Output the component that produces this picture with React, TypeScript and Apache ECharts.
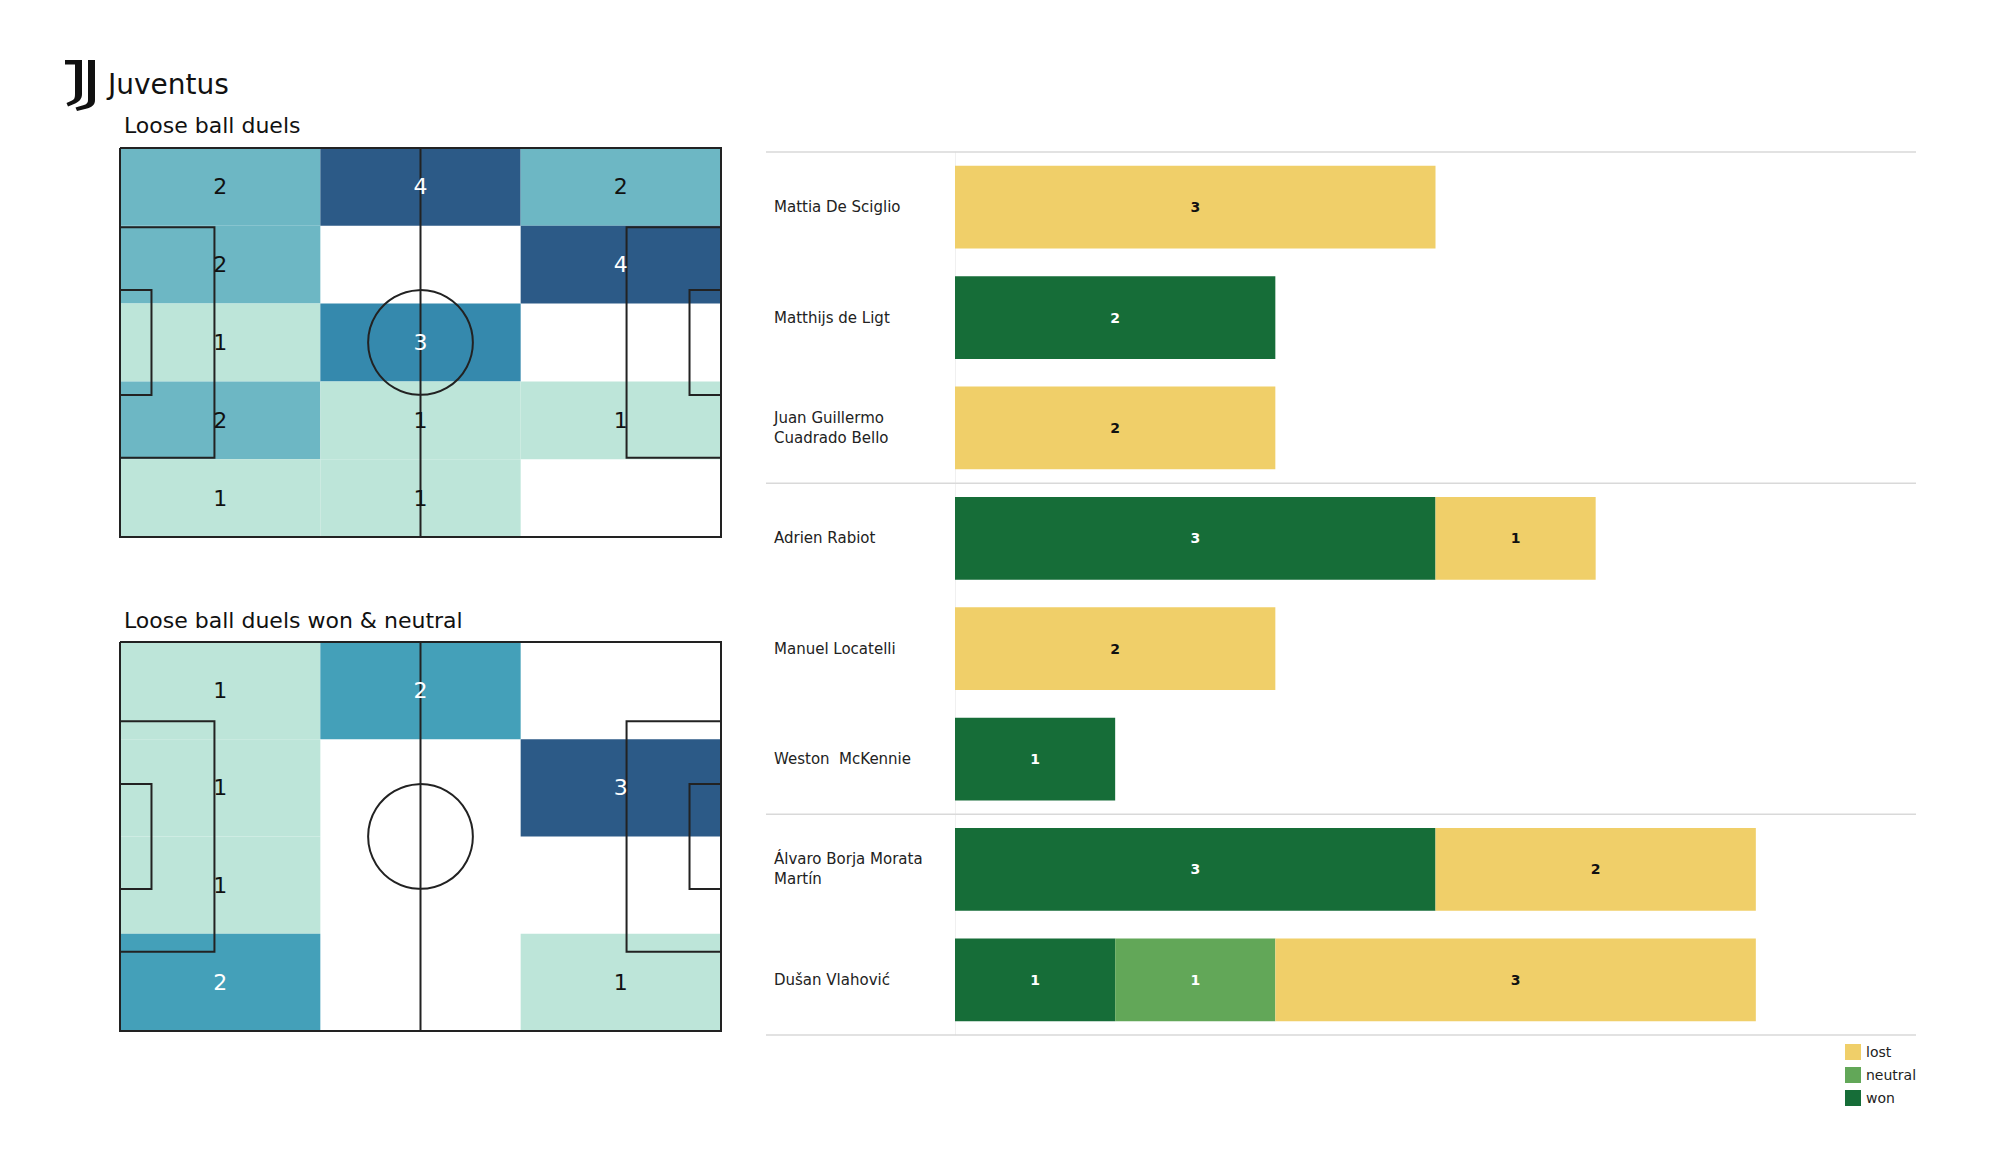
import React, { useEffect, useRef } from 'react';
import * as echarts from 'echarts';

// ---------- data ----------
const TEAM = 'Juventus';
const TITLE_ALL = 'Loose ball duels';
const TITLE_WON = 'Loose ball duels won & neutral';

// zone counts, rows top -> bottom, columns left -> right
const ALL_DUELS_GRID = [
  [2, 4, 2],
  [2, 0, 4],
  [1, 3, 0],
  [2, 1, 1],
  [1, 1, 0],
];
const WON_NEUTRAL_GRID = [
  [1, 2, 0],
  [1, 0, 3],
  [1, 0, 0],
  [2, 0, 1],
];

const PLAYERS = [
  'Mattia De Sciglio',
  'Matthijs de Ligt',
  'Juan Guillermo\nCuadrado Bello',
  'Adrien Rabiot',
  'Manuel Locatelli',
  'Weston  McKennie',
  'Álvaro Borja Morata\nMartín',
  'Dušan Vlahović',
];
const WON = [0, 2, 0, 3, 0, 1, 3, 1];
const NEUTRAL = [0, 0, 0, 0, 0, 0, 0, 1];
const LOST = [3, 0, 2, 1, 2, 0, 2, 3];
const GROUP_SIZES = [3, 3, 2];
const LEGEND_ORDER = ['lost', 'neutral', 'won'];
const BAR_MAX = 6;

// ---------- styling ----------
const FONT = 'DejaVu Sans';
const LINE_COLOR = '#222222';
const TOP_PALETTE = ['#ffffff', '#bde5d9', '#6db7c4', '#3589ad', '#2c5a87'];
const BOTTOM_PALETTE = ['#ffffff', '#bde5d9', '#44a0b9', '#2c5a87'];
const COLORS = { won: '#166d38', neutral: '#62a758', lost: '#f0cf69' };

const PITCH = {
  length: 105,
  width: 68,
  boxDepth: 16.5,
  boxWidth: 40.32,
  sixDepth: 5.5,
  sixWidth: 18.32,
  circleR: 9.15,
};

const LOGO_D =
  'M0 0 H17 V34 C17 39 14 42 9 44 L3 46.5 L1.5 43 L7 40.5 C9.5 39.5 10 37.5 10 34 V4.5 H0 Z ' +
  'M23 0 H30 V40 C30 45 27 47 22 48.5 L12 51 L10.5 47.5 L19 45 C22 44 23 42.5 23 40 Z';

echarts.graphic.registerShape('juveLogo', echarts.graphic.extendPath(LOGO_D, {}));

function gridItems(grid: number[][]) {
  const out: number[][] = [];
  grid.forEach((row, r) =>
    row.forEach((v, c) => {
      if (v > 0) out.push([c, r, v]);
    })
  );
  return out;
}

function maxOf(grid: number[][]) {
  return Math.max(...grid.map((r) => Math.max(...r)));
}

function cellRenderer(nCols: number, nRows: number, palette: string[]) {
  return (params: any, api: any) => {
    const col = api.value(0);
    const row = api.value(1);
    const v = api.value(2);
    const w = PITCH.length / nCols;
    const h = PITCH.width / nRows;
    const p0 = api.coord([col * w, row * h]);
    const p1 = api.coord([(col + 1) * w, (row + 1) * h]);
    return {
      type: 'rect',
      shape: {
        x: Math.min(p0[0], p1[0]),
        y: Math.min(p0[1], p1[1]),
        width: Math.abs(p1[0] - p0[0]),
        height: Math.abs(p1[1] - p0[1]),
      },
      style: { fill: palette[v] },
    };
  };
}

function labelRenderer(nCols: number, nRows: number, max: number) {
  return (params: any, api: any) => {
    const col = api.value(0);
    const row = api.value(1);
    const v = api.value(2);
    const w = PITCH.length / nCols;
    const h = PITCH.width / nRows;
    const p = api.coord([(col + 0.5) * w, (row + 0.5) * h]);
    return {
      type: 'text',
      style: {
        text: String(v),
        x: p[0],
        y: p[1],
        align: 'center',
        verticalAlign: 'middle',
        fill: v / max > 0.6 ? '#ffffff' : '#111111',
        font: `22px "${FONT}"`,
      },
    };
  };
}

function pitchRenderer(params: any, api: any) {
  const L = PITCH.length;
  const W = PITCH.width;
  const c = (x: number, y: number) => api.coord([x, y]);
  const st = { stroke: LINE_COLOR, lineWidth: 2, fill: 'none' };
  const poly = (pts: number[][]) => ({
    type: 'polyline',
    shape: { points: pts.map((p) => c(p[0], p[1])) },
    style: st,
  });
  const bT = (W - PITCH.boxWidth) / 2;
  const bB = (W + PITCH.boxWidth) / 2;
  const sT = (W - PITCH.sixWidth) / 2;
  const sB = (W + PITCH.sixWidth) / 2;
  const bd = PITCH.boxDepth;
  const sd = PITCH.sixDepth;
  const center = c(L / 2, W / 2);
  const r = Math.abs(api.size([PITCH.circleR, 0])[0]);
  return {
    type: 'group',
    children: [
      poly([[0, 0], [L, 0], [L, W], [0, W], [0, 0]]),
      poly([[L / 2, 0], [L / 2, W]]),
      poly([[0, bT], [bd, bT], [bd, bB], [0, bB]]),
      poly([[L, bT], [L - bd, bT], [L - bd, bB], [L, bB]]),
      poly([[0, sT], [sd, sT], [sd, sB], [0, sB]]),
      poly([[L, sT], [L - sd, sT], [L - sd, sB], [L, sB]]),
      { type: 'circle', shape: { cx: center[0], cy: center[1], r }, style: st },
    ],
  };
}

function separatorRenderer(params: any, api: any) {
  const y = api.value(1);
  const p0 = api.coord([0, y]);
  const p1 = api.coord([1, y]);
  return {
    type: 'line',
    shape: { x1: p0[0], y1: p0[1], x2: p1[0], y2: p1[1] },
    style: { stroke: '#d9d9d9', lineWidth: 1.5 },
  };
}

export default function App() {
  const ref = useRef<HTMLDivElement>(null);

  useEffect(() => {
    if (!ref.current) return;
    const chart = echarts.init(ref.current, null, { renderer: 'svg' });

    const topRows = ALL_DUELS_GRID.length;
    const topCols = ALL_DUELS_GRID[0].length;
    const botRows = WON_NEUTRAL_GRID.length;
    const botCols = WON_NEUTRAL_GRID[0].length;
    const topMax = maxOf(ALL_DUELS_GRID);
    const botMax = maxOf(WON_NEUTRAL_GRID);

    const separators: number[][] = [[0, 0]];
    let acc = 0;
    GROUP_SIZES.forEach((g) => {
      acc += g;
      separators.push([0, acc]);
    });

    const pitchX = (gi: number) => ({
      type: 'value',
      gridIndex: gi,
      min: 0,
      max: PITCH.length,
      show: false,
    });
    const pitchY = (gi: number) => ({
      type: 'value',
      gridIndex: gi,
      min: 0,
      max: PITCH.width,
      inverse: true,
      show: false,
    });

    const barLabel = (color: string) => ({
      show: true,
      position: 'inside',
      color,
      fontWeight: 'bold',
      fontSize: 14,
      fontFamily: FONT,
      formatter: (p: any) => (p.value ? String(p.value) : ''),
    });

    const option: any = {
      animation: false,
      backgroundColor: '#ffffff',
      textStyle: { fontFamily: FONT },
      graphic: [
        { type: 'juveLogo', x: 65, y: 60, shape: {}, style: { fill: '#111111' } },
        {
          type: 'text',
          x: 108,
          y: 84,
          style: { text: TEAM, font: `28px "${FONT}"`, fill: '#111111', verticalAlign: 'middle' },
        },
        {
          type: 'text',
          x: 124,
          y: 125,
          style: { text: TITLE_ALL, font: `22px "${FONT}"`, fill: '#111111', verticalAlign: 'middle' },
        },
        {
          type: 'text',
          x: 124,
          y: 620,
          style: { text: TITLE_WON, font: `22px "${FONT}"`, fill: '#111111', verticalAlign: 'middle' },
        },
      ],
      grid: [
        { left: 120, top: 148, width: 601, height: 389 },
        { left: 120, top: 642, width: 601, height: 389 },
        { left: 955, top: 152, right: 84, height: 883 },
        { left: 766, top: 152, right: 84, height: 883 },
      ],
      xAxis: [
        pitchX(0),
        pitchX(1),
        { type: 'value', gridIndex: 2, min: 0, max: BAR_MAX, show: false },
        { type: 'value', gridIndex: 3, min: 0, max: 1, show: false },
      ],
      yAxis: [
        pitchY(0),
        pitchY(1),
        {
          type: 'category',
          gridIndex: 2,
          data: PLAYERS,
          inverse: true,
          axisTick: { show: false },
          axisLine: { show: true, lineStyle: { color: '#f0f0f0', width: 1 } },
          splitLine: { show: false },
          axisLabel: {
            align: 'left',
            margin: 181,
            fontSize: 15,
            lineHeight: 20,
            color: '#222222',
            fontFamily: FONT,
          },
        },
        {
          type: 'value',
          gridIndex: 3,
          min: 0,
          max: PLAYERS.length,
          inverse: true,
          show: false,
        },
      ],
      legend: {
        orient: 'vertical',
        left: 1840,
        top: 1039,
        itemWidth: 16,
        itemHeight: 16,
        itemGap: 7,
        icon: 'rect',
        data: LEGEND_ORDER,
        textStyle: { fontSize: 14, color: '#222222', fontFamily: FONT },
      },
      series: [
        // top pitch
        {
          type: 'custom',
          xAxisIndex: 0,
          yAxisIndex: 0,
          silent: true,
          z: 1,
          data: gridItems(ALL_DUELS_GRID),
          renderItem: cellRenderer(topCols, topRows, TOP_PALETTE),
        },
        {
          type: 'custom',
          xAxisIndex: 0,
          yAxisIndex: 0,
          silent: true,
          z: 3,
          data: [[0, 0]],
          renderItem: pitchRenderer,
        },
        {
          type: 'custom',
          xAxisIndex: 0,
          yAxisIndex: 0,
          silent: true,
          z: 4,
          data: gridItems(ALL_DUELS_GRID),
          renderItem: labelRenderer(topCols, topRows, topMax),
        },
        // bottom pitch
        {
          type: 'custom',
          xAxisIndex: 1,
          yAxisIndex: 1,
          silent: true,
          z: 1,
          data: gridItems(WON_NEUTRAL_GRID),
          renderItem: cellRenderer(botCols, botRows, BOTTOM_PALETTE),
        },
        {
          type: 'custom',
          xAxisIndex: 1,
          yAxisIndex: 1,
          silent: true,
          z: 3,
          data: [[0, 0]],
          renderItem: pitchRenderer,
        },
        {
          type: 'custom',
          xAxisIndex: 1,
          yAxisIndex: 1,
          silent: true,
          z: 4,
          data: gridItems(WON_NEUTRAL_GRID),
          renderItem: labelRenderer(botCols, botRows, botMax),
        },
        // separators
        {
          type: 'custom',
          xAxisIndex: 3,
          yAxisIndex: 3,
          silent: true,
          z: 1,
          data: separators,
          renderItem: separatorRenderer,
        },
        // bars
        {
          name: 'won',
          type: 'bar',
          stack: 'total',
          xAxisIndex: 2,
          yAxisIndex: 2,
          barWidth: '75%',
          z: 2,
          data: WON,
          itemStyle: { color: COLORS.won },
          label: barLabel('#ffffff'),
        },
        {
          name: 'neutral',
          type: 'bar',
          stack: 'total',
          xAxisIndex: 2,
          yAxisIndex: 2,
          barWidth: '75%',
          z: 2,
          data: NEUTRAL,
          itemStyle: { color: COLORS.neutral },
          label: barLabel('#ffffff'),
        },
        {
          name: 'lost',
          type: 'bar',
          stack: 'total',
          xAxisIndex: 2,
          yAxisIndex: 2,
          barWidth: '75%',
          z: 2,
          data: LOST,
          itemStyle: { color: COLORS.lost },
          label: barLabel('#111111'),
        },
      ],
    };

    chart.setOption(option);
    return () => chart.dispose();
  }, []);

  return (
    <div
      ref={ref}
      style={{ position: 'fixed', left: 0, top: 0, width: 2000, height: 1175, background: '#ffffff' }}
    />
  );
}
